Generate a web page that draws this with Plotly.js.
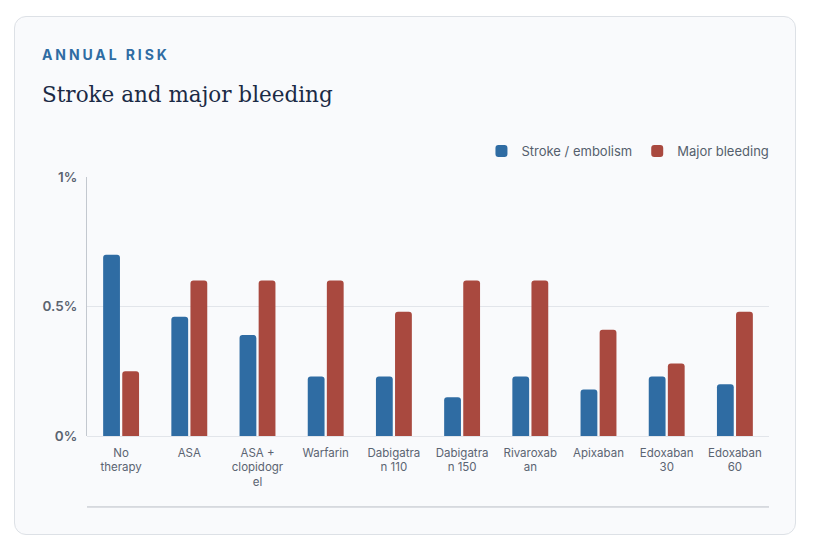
<!DOCTYPE html>
<html>
<head>
<meta charset="utf-8">
<script src="https://cdn.plot.ly/plotly-3.0.1.min.js"></script>
<style>
  html, body { margin: 0; padding: 0; background: #ffffff; }
  body { width: 813px; height: 559px; position: relative; overflow: hidden; }
  .card {
    position: absolute; left: 14px; top: 16px; width: 780px; height: 517px;
    background: #f9fafc; border: 1px solid #dde1e6; border-radius: 12px;
  }
  .kicker {
    position: absolute; left: 42px; top: 46px;
    font-family: Inter, "Noto Sans", sans-serif; font-weight: 700; font-size: 14px;
    letter-spacing: 2.9px; color: #2f6ca3;
  }
  .title {
    position: absolute; left: 42px; top: 82px;
    font-family: "DejaVu Serif", "Liberation Serif", serif; font-size: 21.5px; color: #1b2a45;
  }
  #plot { position: absolute; left: 0; top: 0; width: 813px; height: 559px; }
</style>
</head>
<body>
<div class="card"></div>
<div class="kicker">ANNUAL RISK</div>
<div class="title">Stroke and major bleeding</div>
<div id="plot"></div>
<script>
  // values in percent per year
  const categories = ['No therapy', 'ASA', 'ASA + clopidogrel', 'Warfarin', 'Dabigatran 110',
    'Dabigatran 150', 'Rivaroxaban', 'Apixaban', 'Edoxaban 30', 'Edoxaban 60'];
  const tickLabels = ['No<br>therapy', 'ASA', 'ASA +<br>clopidogr<br>el', 'Warfarin', 'Dabigatra<br>n 110',
    'Dabigatra<br>n 150', 'Rivaroxab<br>an', 'Apixaban', 'Edoxaban<br>30', 'Edoxaban<br>60'];
  const stroke = [0.70, 0.46, 0.39, 0.23, 0.23, 0.15, 0.23, 0.18, 0.23, 0.20];
  const bleeding = [0.25, 0.60, 0.60, 0.60, 0.48, 0.60, 0.60, 0.41, 0.28, 0.48];
  const yTicks = [0, 0.5, 1];
  const yTickText = ['0%', '0.5%', '1%'];

  const sans = 'Inter, "Noto Sans", sans-serif';

  const data = [
    {
      type: 'bar', name: 'Stroke / embolism', x: categories, y: stroke,
      marker: {color: '#2f6ca3'}, hoverinfo: 'skip'
    },
    {
      type: 'bar', name: 'Major bleeding', x: categories, y: bleeding,
      marker: {color: '#a9493f'}, hoverinfo: 'skip'
    }
  ];

  const layout = {
    width: 813, height: 559,
    paper_bgcolor: 'rgba(0,0,0,0)',
    plot_bgcolor: 'rgba(0,0,0,0)',
    margin: {l: 87, r: 44, t: 177, b: 123, pad: 0},
    barmode: 'group',
    bargap: 0.44,
    bargroupgap: 0.12,
    barcornerradius: 3,
    font: {family: sans, size: 11.5, color: '#5b6472'},
    showlegend: true,
    legend: {
      orientation: 'h', x: 1.008, xanchor: 'right', y: 1.042, yanchor: 'bottom',
      font: {family: sans, size: 13, color: '#555f6d'},
      itemwidth: 30, bgcolor: 'rgba(0,0,0,0)'
    },
    xaxis: {
      type: 'category',
      tickvals: categories, ticktext: tickLabels,
      tickangle: 0,
      showgrid: false, zeroline: false,
      showline: false, ticks: '',
      ticklabelstandoff: 8,
      tickfont: {family: sans, size: 11.5, color: '#5b6472'},
      fixedrange: true
    },
    yaxis: {
      range: [0, 1],
      tickvals: yTicks, ticktext: yTickText,
      showgrid: true, gridcolor: '#e2e5ea', gridwidth: 1,
      zeroline: true, zerolinecolor: '#e2e5ea', zerolinewidth: 1,
      showline: true, linecolor: '#c3c8cf', linewidth: 1,
      ticks: '', ticklabelstandoff: 6,
      tickfont: {family: sans, size: 13.5, color: '#5b6370', weight: 600},
      fixedrange: true
    },
    shapes: [
      {
        type: 'line', xref: 'paper', yref: 'paper',
        x0: 0, x1: 1, y0: -0.274, y1: -0.274,
        line: {color: '#b9bec5', width: 1}
      }
    ]
  };

  Plotly.newPlot('plot', data, layout, {staticPlot: true, displayModeBar: false});
</script>
</body>
</html>
